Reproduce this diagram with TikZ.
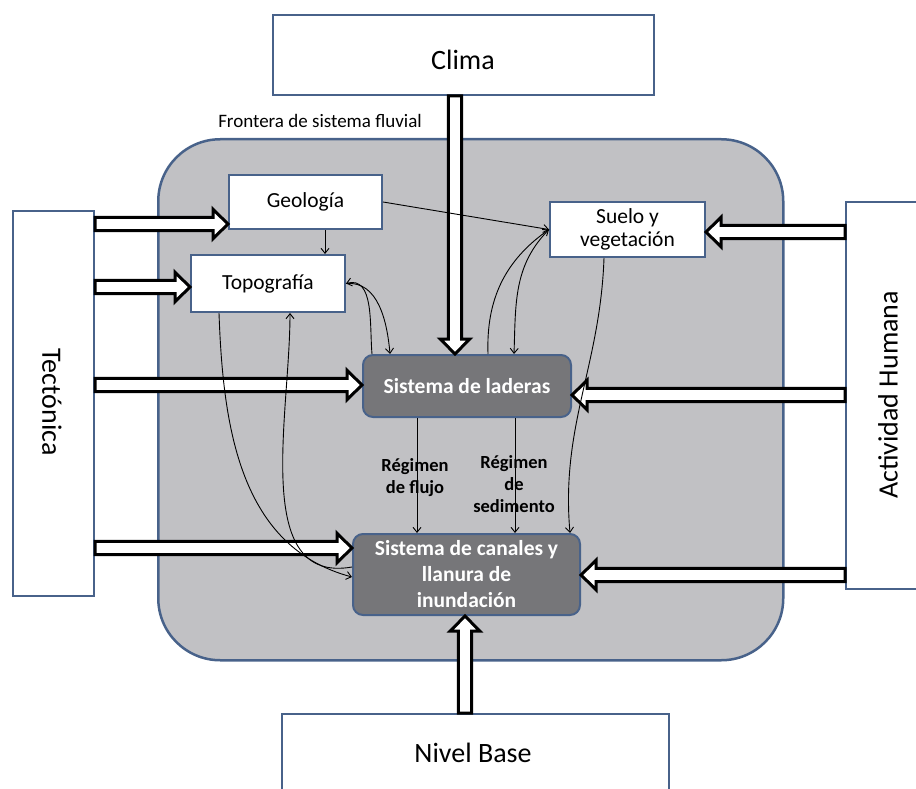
\documentclass[tikz,border=0pt]{standalone}
\usepackage{fontspec}
\setmainfont{Carlito}
\usetikzlibrary{calc,arrows.meta}

\definecolor{bordeazul}{RGB}{72,98,138}
\definecolor{grisfondo}{RGB}{193,193,196}
\definecolor{grisoscuro}{RGB}{118,118,121}

\tikzset{
  caja/.style={draw=bordeazul, line width=2pt, fill=white, inner sep=0pt, align=center, anchor=north west},
  externo/.style={font=\fontsize{28}{30}\selectfont},
  interno/.style={caja, font=\fontsize{21.5}{23}\selectfont},
  proceso/.style={caja, fill=grisoscuro, rounded corners=10pt, text=white, font=\bfseries\fontsize{21.5}{26}\selectfont},
  frontera/.style={draw=bordeazul, line width=2.5pt, fill=grisfondo, rounded corners=62pt, anchor=north west},
  flecha/.style={black, line width=0.9pt, -{Straight Barb[length=5pt,width=8pt]}},
  bloque/.style={draw=black, fill=white, line width=3pt, line join=miter},
  etiqueta/.style={font=\bfseries\fontsize{18.5}{22}\selectfont, align=center}
}

\newcommand{\flechagruesa}[2]{%
  \coordinate (fg-a) at (#1);
  \coordinate (fg-b) at (#2);
  \coordinate (fg-h) at ($(fg-b)!15pt!(fg-a)$);
  \draw[bloque] ($(fg-a)!6.7pt!90:(fg-b)$) -- ($(fg-h)!6.7pt!90:(fg-b)$)
    -- ($(fg-h)!14.7pt!90:(fg-b)$) -- (fg-b) -- ($(fg-h)!14.7pt!-90:(fg-b)$)
    -- ($(fg-h)!6.7pt!-90:(fg-b)$) -- ($(fg-a)!6.7pt!-90:(fg-b)$) -- cycle;}

\begin{document}
\begin{tikzpicture}[x=1pt,y=-1pt]
  \useasboundingbox (0,0) rectangle (916,789);
  \clip (0,0) rectangle (916,789);

  \node[frontera, minimum width=625pt, minimum height=521pt] (frontera) at (157,138) {};
  \node[font=\fontsize{19}{21}\selectfont] (frontera-txt) at (320,121) {Frontera de sistema fluvial};

  \node[caja, minimum width=381pt, minimum height=80pt] (clima) at (272,14) {};
  \node[externo] (clima-txt) at (463,60) {Clima};
  \node[caja, minimum width=81pt, minimum height=385pt] (tect) at (12,210) {};
  \node[externo, rotate=-90] (tect-txt) at (52,402) {Tectónica};
  \node[caja, minimum width=90pt, minimum height=387pt] (activ) at (845,201) {};
  \node[externo, rotate=90] (activ-txt) at (888,395) {Actividad Humana};
  \node[caja, minimum width=387pt, minimum height=90pt] (nivel) at (281,713) {};
  \node[externo] (nivel-txt) at (473,753) {Nivel Base};

  \node[interno, minimum width=153pt, minimum height=54pt] (geol) at (228,174) {Geología};
  \node[interno, minimum width=154pt, minimum height=57pt] (topo) at (190,254) {Topografía};
  \node[interno, minimum width=155pt, minimum height=55pt] (suelo) at (549,201) {Suelo y\\vegetación};
  \node[proceso, minimum width=208pt, minimum height=62pt] (laderas) at (362,354) {Sistema de laderas};
  \node[proceso, minimum width=227pt, minimum height=81pt] (canales) at (352,533) {Sistema de canales y\\llanura de\\inundación};

  \flechagruesa{tect.east |- 0,224}{geol.west |- 0,224}
  \flechagruesa{tect.east |- 0,287}{topo.west |- 0,287}
  \flechagruesa{tect.east |- 0,385}{laderas.west |- 0,385}
  \flechagruesa{tect.east |- 0,548}{canales.west |- 0,548}
  \flechagruesa{activ.west |- 0,232}{suelo.east |- 0,232}
  \flechagruesa{activ.west |- 0,395}{laderas.east |- 0,395}
  \flechagruesa{activ.west |- 0,575}{canales.east |- 0,575}
  \flechagruesa{455,0 |- clima.south}{455,0 |- laderas.north}
  \flechagruesa{465,0 |- nivel.north}{465,0 |- canales.south}

  \draw[flecha] (geol.south -| 325,0) -- (topo.north -| 325,0);
  \draw[flecha] (geol.east) -- (suelo.west);
  \draw[flecha] (laderas.north -| 372,0) to[out=95,in=15] (topo.east);
  \draw[flecha] (topo.east) to[out=5,in=95] (laderas.north -| 390,0);
  \draw[flecha] (laderas.north -| 488,0) to[out=92,in=215] (suelo.west);
  \draw[flecha] (suelo.west) to[out=225,in=88] (laderas.north -| 514,0);
  \draw[flecha] (suelo.south -| 604,0) to[out=-92,in=95] (canales.north -| 570,0);
  \draw[flecha] (topo.south -| 219,0) to[out=-88,in=165] (canales.west |- 0,577);
  \draw[flecha] (canales.west |- 0,567) to[out=190,in=-90] (topo.south -| 290,0);
  \draw[flecha] (laderas.south -| 417,0) -- (canales.north -| 417,0);
  \draw[flecha] (laderas.south -| 515,0) -- (canales.north -| 515,0);

  \node[etiqueta] (flujo) at (415,478) {Régimen\\de flujo};
  \node[etiqueta] (sedimento) at (514,484) {Régimen\\de\\sedimento};
\end{tikzpicture}
\end{document}
